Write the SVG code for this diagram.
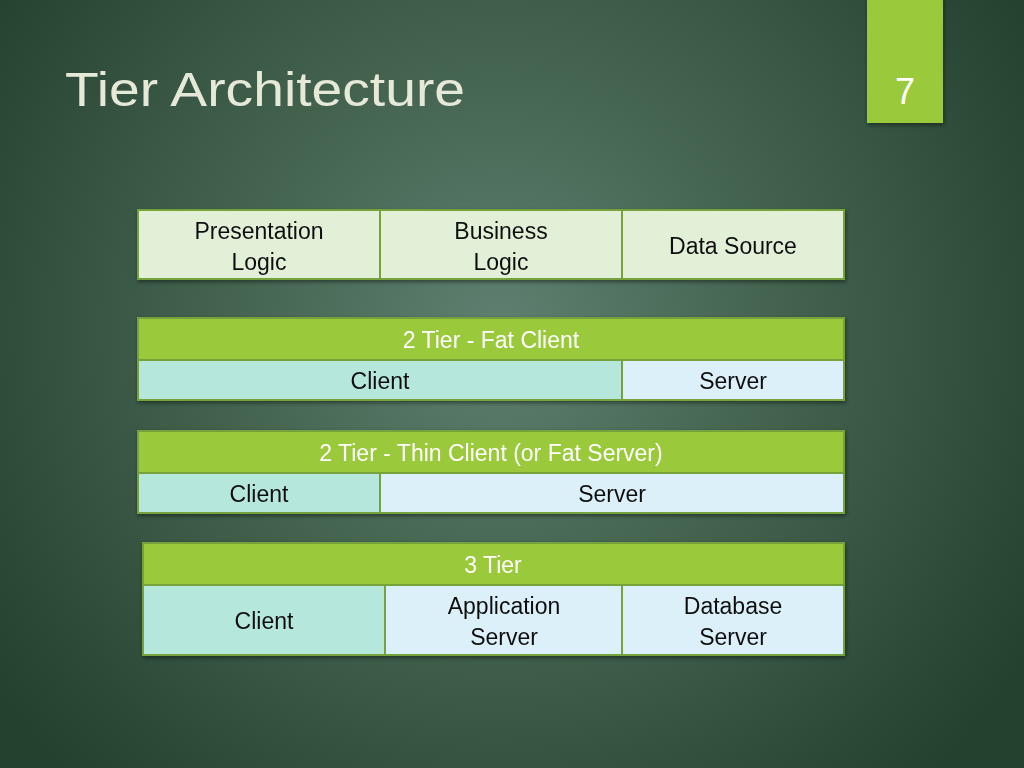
<svg xmlns="http://www.w3.org/2000/svg" width="1024" height="768" viewBox="0 0 1024 768">
<defs>
<radialGradient id="bg" cx="500" cy="330" r="620" gradientUnits="userSpaceOnUse">
<stop offset="0" stop-color="#5f8070"/>
<stop offset="0.45" stop-color="#43634f"/>
<stop offset="1" stop-color="#24402f"/>
</radialGradient>
<filter id="sh" x="-20%" y="-20%" width="140%" height="140%">
<feDropShadow dx="1" dy="2" stdDeviation="2" flood-color="#000" flood-opacity="0.45"/>
</filter>
<style>
.cell{stroke:#76a23a;stroke-width:2}
.lg{fill:#e2f0d8}
.hd{fill:#9ac93a}
.mint{fill:#b5e7dc}
.blue{fill:#dcf0fa}
.t{font-family:"Liberation Sans",Arial,sans-serif;font-size:23px;fill:#111;text-anchor:middle}
.w{fill:#ffffff}
</style>
</defs>
<rect width="1024" height="768" fill="url(#bg)"/>
<g id="title">
<text x="65" y="106" font-family="'Liberation Sans',Arial,sans-serif" font-size="49" fill="#e6e8d8" textLength="400" lengthAdjust="spacingAndGlyphs">Tier Architecture</text>
</g>
<g id="page-tab">
<rect x="867" y="-2" width="76" height="125" fill="#9ac93a" filter="url(#sh)"/>
<text x="905" y="104" font-family="'Liberation Sans',Arial,sans-serif" font-size="36" fill="#ffffff" text-anchor="middle">7</text>
</g>
<g id="table-logic" filter="url(#sh)">
<rect class="cell lg" x="138" y="210" width="242" height="69"/>
<rect class="cell lg" x="380" y="210" width="242" height="69"/>
<rect class="cell lg" x="622" y="210" width="222" height="69"/>
<text class="t" x="259" y="239">Presentation</text>
<text class="t" x="259" y="270">Logic</text>
<text class="t" x="501" y="239">Business</text>
<text class="t" x="501" y="270">Logic</text>
<text class="t" x="733" y="254">Data Source</text>
</g>
<g id="table-fat-client" filter="url(#sh)">
<rect class="cell hd" x="138" y="318" width="706" height="42"/>
<rect class="cell mint" x="138" y="360" width="484" height="40"/>
<rect class="cell blue" x="622" y="360" width="222" height="40"/>
<text class="t w" x="491" y="348">2 Tier - Fat Client</text>
<text class="t" x="380" y="389">Client</text>
<text class="t" x="733" y="389">Server</text>
</g>
<g id="table-thin-client" filter="url(#sh)">
<rect class="cell hd" x="138" y="431" width="706" height="42"/>
<rect class="cell mint" x="138" y="473" width="242" height="40"/>
<rect class="cell blue" x="380" y="473" width="464" height="40"/>
<text class="t w" x="491" y="461">2 Tier - Thin Client (or Fat Server)</text>
<text class="t" x="259" y="502">Client</text>
<text class="t" x="612" y="502">Server</text>
</g>
<g id="table-3tier" filter="url(#sh)">
<rect class="cell hd" x="143" y="543" width="701" height="42"/>
<rect class="cell mint" x="143" y="585" width="242" height="70"/>
<rect class="cell blue" x="385" y="585" width="237" height="70"/>
<rect class="cell blue" x="622" y="585" width="222" height="70"/>
<text class="t w" x="493" y="573">3 Tier</text>
<text class="t" x="264" y="629">Client</text>
<text class="t" x="504" y="614">Application</text>
<text class="t" x="504" y="645">Server</text>
<text class="t" x="733" y="614">Database</text>
<text class="t" x="733" y="645">Server</text>
</g>
</svg>
